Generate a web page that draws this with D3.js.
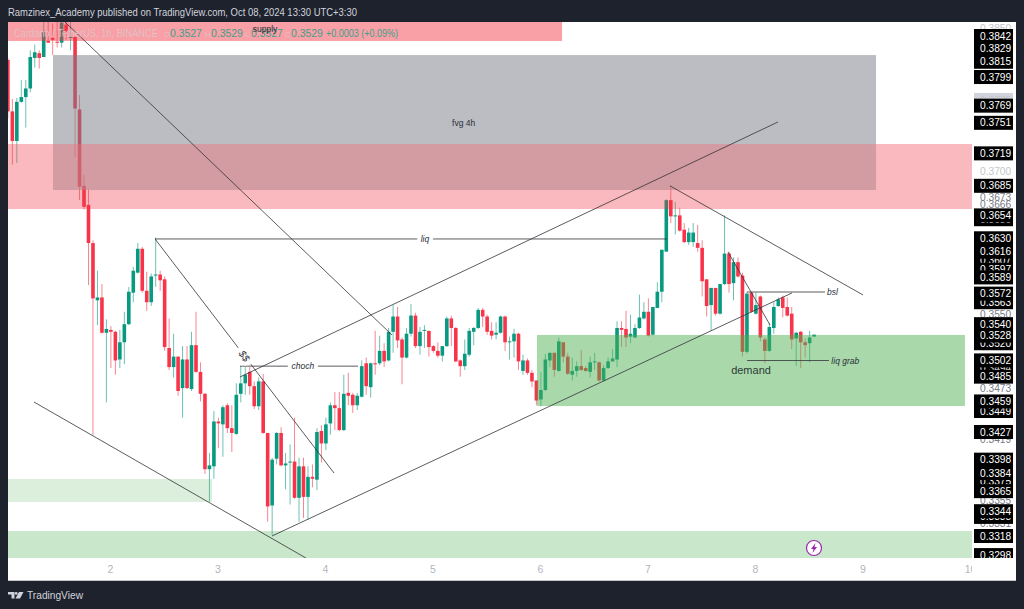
<!DOCTYPE html>
<html>
<head>
<meta charset="utf-8">
<script src="https://cdn.jsdelivr.net/npm/d3@7"></script>
<style>
  html, body { margin: 0; padding: 0; background: #1e222d; }
  svg { display: block; }
  text { font-family: "Liberation Sans", sans-serif; }
</style>
</head>
<body>
<div id="chart"></div>
<script>
// hourly candles, prices in ten-thousandths
const opens = [3817,3763,3732,3773,3778,3787,3819,3824,3820,3837,
3840,3836,3835,3854,3840,3841,3765,3685,3665,3625,
3565,3568,3531,3534,3532,3503,3521,3540,3573,3594,
3619,3575,3563,3591,3592,3587,3515,3495,3506,3473,
3503,3472,3518,3490,3467,3388,3391,3438,3435,3455,
3431,3425,3467,3478,3490,3475,3454,3480,3426,3350,
3399,3426,3392,3395,3396,3358,3391,3359,3380,3377,
3428,3415,3436,3455,3452,3429,3468,3466,3455,3464,
3499,3474,3499,3499,3512,3502,3532,3548,3524,3505,
3530,3549,3517,3533,3533,3517,3512,3507,3517,3546,
3536,3502,3496,3508,3532,3536,3555,3548,3533,3529,
3531,3548,3521,3522,3530,3491,3502,3489,3481,3461,
3471,3502,3510,3491,3521,3506,3487,3491,3496,3494,
3490,3500,3500,3481,3494,3501,3503,3536,3535,3527,
3526,3536,3546,3553,3529,3557,3574,3616,3670,3653,
3654,3639,3626,3626,3625,3620,3587,3560,3578,3551,
3582,3614,3583,3605,3591,3511,3573,3551,3569,3524,
3512,3536,3559,3568,3558,3551,3525,3532,3521,3520,
3527];
const highs = [3819,3776,3777,3796,3796,3827,3833,3827,3857,3857,
3855,3857,3857,3857,3857,3842,3780,3697,3681,3628,
3596,3582,3545,3538,3533,3534,3553,3579,3600,3625,
3621,3595,3593,3631,3596,3590,3546,3530,3506,3517,
3517,3532,3553,3500,3468,3405,3449,3442,3455,3457,
3455,3478,3496,3495,3495,3480,3484,3488,3426,3400,
3427,3432,3405,3414,3442,3400,3400,3391,3393,3431,
3434,3442,3458,3469,3469,3487,3489,3468,3468,3502,
3505,3500,3533,3528,3520,3536,3560,3558,3526,3536,
3561,3552,3537,3539,3533,3518,3521,3517,3548,3549,
3537,3503,3524,3536,3537,3557,3557,3550,3542,3542,
3549,3549,3527,3535,3531,3508,3504,3492,3481,3490,
3509,3510,3510,3526,3521,3510,3505,3501,3513,3496,
3506,3510,3501,3497,3505,3514,3543,3543,3554,3550,
3540,3571,3563,3567,3558,3584,3618,3671,3685,3668,
3662,3646,3641,3646,3644,3628,3587,3578,3578,3582,
3654,3616,3610,3610,3594,3574,3574,3573,3570,3526,
3541,3563,3568,3570,3568,3558,3532,3533,3525,3533,
3529];
const lows = [3756,3707,3709,3772,3746,3783,3809,3808,3820,3835,
3822,3830,3830,3838,3827,3715,3670,3660,3581,3424,
3539,3530,3458,3494,3487,3494,3498,3539,3563,3593,
3573,3554,3559,3579,3575,3512,3492,3484,3465,3442,
3472,3470,3489,3459,3383,3354,3378,3410,3401,3426,
3406,3424,3458,3466,3466,3451,3450,3425,3333,3319,
3393,3391,3367,3351,3357,3333,3337,3335,3369,3366,
3395,3408,3424,3429,3428,3428,3455,3447,3450,3463,
3466,3463,3487,3497,3495,3501,3510,3515,3477,3504,
3527,3515,3508,3515,3506,3510,3505,3501,3516,3517,
3500,3485,3492,3506,3518,3535,3537,3529,3524,3524,
3530,3512,3503,3505,3492,3487,3487,3474,3455,3454,
3470,3495,3485,3490,3500,3487,3481,3485,3491,3490,
3484,3492,3480,3480,3493,3501,3495,3516,3516,3520,
3526,3535,3545,3527,3528,3557,3563,3616,3646,3634,
3637,3625,3623,3621,3616,3569,3548,3533,3549,3550,
3581,3573,3565,3589,3506,3509,3552,3550,3522,3499,
3511,3530,3558,3547,3548,3514,3496,3494,3505,3500,
3527];
const closes = [3763,3732,3773,3778,3787,3820,3825,3819,3846,3835,
3838,3835,3856,3846,3841,3766,3684,3663,3625,3567,
3568,3531,3535,3532,3502,3521,3540,3574,3596,3619,
3575,3563,3590,3592,3586,3516,3495,3506,3470,3503,
3473,3518,3490,3467,3388,3392,3438,3436,3453,3431,
3426,3466,3478,3487,3475,3454,3480,3426,3349,3398,
3426,3392,3394,3396,3358,3391,3359,3380,3378,3427,
3415,3435,3455,3452,3429,3467,3465,3455,3465,3496,
3475,3499,3498,3512,3501,3532,3548,3523,3505,3530,
3549,3517,3532,3534,3516,3512,3507,3517,3546,3536,
3501,3496,3509,3533,3536,3555,3548,3532,3528,3531,
3548,3521,3522,3530,3501,3502,3489,3480,3460,3471,
3503,3510,3492,3522,3506,3488,3491,3496,3492,3491,
3500,3501,3481,3494,3501,3504,3536,3534,3526,3530,
3536,3547,3553,3528,3558,3574,3618,3670,3653,3654,
3638,3626,3636,3636,3620,3585,3559,3578,3551,3582,
3614,3582,3605,3590,3511,3572,3553,3560,3526,3512,
3537,3558,3566,3557,3549,3524,3531,3521,3518,3526,
3529];

const firstDay = 1.05;
const dayTicks = [2, 3, 4, 5, 6, 7, 8, 9, 10];

// price axis: plain ticks, then the black drawing labels
const paleTicks = [0.3850, 0.3775, 0.3700];
const greyTicks = [0.3673, 0.3666, 0.3550, 0.3473, 0.3419, 0.3355, 0.3331];
const hiddenLabels = [0.3650, 0.3607, 0.3597, 0.3563, 0.3520, 0.3494, 0.3449, 0.3375, 0.3338];
const frontLabels = [0.3842, 0.3829, 0.3815, 0.3799, 0.3769, 0.3751, 0.3719, 0.3685, 0.3654,
  0.3630, 0.3616, 0.3589, 0.3572, 0.3540, 0.3528, 0.3502, 0.3485, 0.3459, 0.3427,
  0.3398, 0.3384, 0.3365, 0.3344, 0.3318, 0.3298];

// zones: [day from, day to, price top, price bottom]
const fvgZone = [1.47, 9.126, 0.3822, 0.36806];
const supplyBand = [1.05, 10.02, 0.37288, 0.36607];
const bandOverlap = [1.47, 9.126, 0.37288, 0.36806];
const supplyTop = [1.05, 6.205, 0.38567, 0.38368];
const demandZone = [5.972, 9.953, 0.35287, 0.34542];
const lowZoneA = [1.05, 2.949, 0.33777, 0.33536];
const lowZoneB = [1.05, 10.02, 0.33232, 0.32949];

// trend lines: [day, price, day, price]
const trendLines = [
  [1.581, 0.38567, 4.623, 0.35287],
  [1.293, 0.34584, 3.823, 0.32949],
  [2.419, 0.36293, 4.084, 0.3384],
  [2.419, 0.36293, 7.181, 0.36293],
  [3.209, 0.3496, 4.307, 0.3496],
  [3.507, 0.3318, 8.344, 0.35727],
  [3.209, 0.34846, 8.214, 0.37519],
  [7.209, 0.3685, 9.005, 0.35706],
  [7.749, 0.36156, 8.14, 0.35391],
  [7.926, 0.35737, 8.651, 0.35737],
  [7.926, 0.35019, 8.688, 0.35019]
];

// notes: [text, day, price, rotation, cuts the line behind it]
const notes = [
  ["liq", 4.93, 0.36293, 0, true],
  ["choch", 3.795, 0.3496, 0, true],
  ["$$", 3.25, 0.35066, 52, true],
  ["bsl", 8.72, 0.35737, 0, false],
  ["liq grab", 8.84, 0.35019, 0, false],
  ["fvg 4h", 5.29, 0.37505, 0, false]
];

const width = 1024, height = 609;
const margin = { left: 8, top: 22, right: 972, bottom: 558 };
const x = d3.scaleLinear().domain([2, 10]).range([110, 970]);
const y = d3.scaleLinear().domain([0.3842, 0.3318]).range([36, 536]);

const svg = d3.select("#chart").append("svg")
  .attr("width", width)
  .attr("height", height)
  .style("background", "#1e222d");

// white panel with the time axis and price axis inside
svg.append("rect")
  .attr("x", margin.left).attr("y", margin.top)
  .attr("width", 1016 - margin.left).attr("height", 580 - margin.top)
  .attr("fill", "#ffffff");
svg.append("line")
  .attr("x1", margin.left).attr("x2", 1016).attr("y1", 580.5).attr("y2", 580.5)
  .attr("stroke", "#c4c6cc");

const defs = svg.append("defs");
defs.append("clipPath").attr("id", "pane").append("rect")
  .attr("x", margin.left).attr("y", margin.top)
  .attr("width", margin.right - margin.left).attr("height", margin.bottom - margin.top);
defs.append("clipPath").attr("id", "priceArea").append("rect")
  .attr("x", margin.right).attr("y", margin.top)
  .attr("width", 1016 - margin.right).attr("height", margin.bottom - margin.top);
defs.append("clipPath").attr("id", "timeArea").append("rect")
  .attr("x", margin.left).attr("y", margin.bottom)
  .attr("width", margin.right - margin.left).attr("height", 22);

const pane = svg.append("g").attr("clip-path", "url(#pane)");

// candles
const candles = d3.range(opens.length).map(i => ({
  day: firstDay + i / 24,
  open: opens[i] / 10000,
  high: highs[i] / 10000,
  low: lows[i] / 10000,
  close: closes[i] / 10000
}));
const candleColor = d => d.close >= d.open ? "#089981" : "#f7344a";

pane.selectAll(".wick")
  .data(candles)
  .enter()
  .append("line")
  .attr("class", "wick")
  .attr("x1", d => x(d.day))
  .attr("x2", d => x(d.day))
  .attr("y1", d => y(d.high))
  .attr("y2", d => y(d.low))
  .attr("stroke", candleColor)
  .attr("stroke-opacity", 0.6)
  .attr("stroke-width", 1);

pane.selectAll(".body")
  .data(candles)
  .enter()
  .append("rect")
  .attr("class", "body")
  .attr("x", d => x(d.day) - 1.8)
  .attr("width", 3.6)
  .attr("y", d => y(Math.max(d.open, d.close)))
  .attr("height", d => Math.max(1, Math.abs(y(d.open) - y(d.close))))
  .attr("fill", candleColor);

// zones go over the candles
function drawZone(zone, color, alpha) {
  pane.append("rect")
    .attr("x", x(zone[0]))
    .attr("width", x(zone[1]) - x(zone[0]))
    .attr("y", y(zone[2]))
    .attr("height", y(zone[3]) - y(zone[2]))
    .attr("fill", color)
    .attr("fill-opacity", alpha);
}
drawZone(fvgZone, "#787b86", 0.5);
drawZone(supplyBand, "#f23645", 0.35);
drawZone(bandOverlap, "#ffffff", 0.12); // the two zones mix lighter in the original
drawZone(supplyTop, "#f23645", 0.48);
drawZone(demandZone, "#4caf50", 0.48);
drawZone(lowZoneA, "#4caf50", 0.2);
drawZone(lowZoneB, "#4caf50", 0.3);

pane.selectAll(".trend")
  .data(trendLines)
  .enter()
  .append("line")
  .attr("class", "trend")
  .attr("x1", d => x(d[0]))
  .attr("y1", d => y(d[1]))
  .attr("x2", d => x(d[2]))
  .attr("y2", d => y(d[3]))
  .attr("stroke", "#33333a")
  .attr("stroke-opacity", 0.8)
  .attr("stroke-width", 1);

pane.selectAll(".note")
  .data(notes)
  .enter()
  .append("text")
  .attr("class", "note")
  .attr("transform", d => "translate(" + x(d[1]) + "," + y(d[2]) + ") rotate(" + d[3] + ")")
  .attr("text-anchor", "middle")
  .attr("dy", "0.35em")
  .attr("font-size", d => d[0] === "$$" ? 10 : 8.5)
  .attr("font-style", d => d[0] === "fvg 4h" ? "normal" : "italic")
  .attr("fill", "#2a2e39")
  .attr("stroke", d => d[4] ? "#ffffff" : "none")
  .attr("stroke-width", 8)
  .attr("paint-order", "stroke")
  .text(d => d[0]);

pane.append("text")
  .attr("x", x(7.963)).attr("y", y(0.3492))
  .attr("dy", "0.35em")
  .attr("text-anchor", "middle")
  .attr("font-size", 11)
  .attr("fill", "#2f3a36")
  .text("demand");

// small alert icon near the last bar
const alertIcon = pane.append("g").attr("transform", "translate(814,548)");
alertIcon.append("circle")
  .attr("r", 7.5)
  .attr("fill", "#ffffff")
  .attr("stroke", "#9c27b0")
  .attr("stroke-width", 1.2);
alertIcon.append("path")
  .attr("d", "M1.5,-5 L-3,1 L-0.5,1 L-1.5,5 L3,-1 L0.5,-1 Z")
  .attr("fill", "#9c27b0");

// legend line and the supply note
const legendY = 36.5;
const last = candles[candles.length - 1];
const fmt = d3.format(".4f");
svg.append("text")
  .attr("x", 14).attr("y", legendY)
  .attr("font-size", 10.5)
  .attr("textLength", 144)
  .attr("lengthAdjust", "spacingAndGlyphs")
  .attr("fill", "#e3c0c4")
  .text("Cardano / TetherUS, 1h, BINANCE");
const legendItems = [
  ["O", fmt(last.open), 164],
  ["H", fmt(last.high), 205],
  ["L", fmt(last.low), 245],
  ["C", fmt(last.close), 285]
];
legendItems.forEach(d => {
  svg.append("text").attr("x", d[2]).attr("y", legendY).attr("font-size", 8)
    .attr("fill", "#e3c0c4").text(d[0]);
  svg.append("text").attr("x", d[2] + 6).attr("y", legendY).attr("font-size", 10.4)
    .attr("fill", "#3f9f8c").text(d[1]);
});
svg.append("text")
  .attr("x", 326).attr("y", legendY)
  .attr("font-size", 10.4)
  .attr("textLength", 72)
  .attr("lengthAdjust", "spacingAndGlyphs")
  .attr("fill", "#3f9f8c")
  .text("+0.0003 (+0.09%)");
svg.append("text")
  .attr("x", 265).attr("y", 32)
  .attr("text-anchor", "middle")
  .attr("font-size", 8.5)
  .attr("fill", "#2a2e39")
  .text("supply");

// time axis
const timeAxis = svg.append("g")
  .attr("clip-path", "url(#timeArea)")
  .append("g")
  .attr("transform", "translate(0,563)")
  .call(d3.axisBottom(x).tickValues(dayTicks).tickSize(0).tickFormat(d3.format("d")));
timeAxis.select(".domain").remove();
timeAxis.selectAll("text").attr("font-size", 10.5).attr("fill", "#b2b5be").attr("font-family", "Liberation Sans");

// price axis
const priceArea = svg.append("g").attr("clip-path", "url(#priceArea)");
priceArea.append("rect")
  .attr("x", 974).attr("width", 39)
  .attr("y", y(0.3775) - 7).attr("height", 14)
  .attr("fill", "#d1d4dc");

function priceTicks(values, color) {
  const axis = priceArea.append("g")
    .attr("transform", "translate(972,0)")
    .call(d3.axisRight(y).tickValues(values).tickSize(0).tickPadding(8).tickFormat(fmt));
  axis.select(".domain").remove();
  axis.selectAll("text")
    .attr("font-size", 10.2)
    .attr("fill", color)
    .attr("font-family", "Liberation Sans");
}
priceTicks(paleTicks, "#c4c6cc");
priceTicks(greyTicks, "#787b86");

function priceLabels(values) {
  const tag = priceArea.selectAll(null)
    .data(values)
    .enter()
    .append("g")
    .attr("transform", d => "translate(974," + y(d) + ")");
  tag.append("rect")
    .attr("y", -7)
    .attr("width", 39)
    .attr("height", 14)
    .attr("fill", "#000000");
  tag.append("text")
    .attr("x", 6)
    .attr("dy", "0.35em")
    .attr("font-size", 10.2)
    .attr("fill", "#ffffff")
    .text(d => fmt(d));
}
priceLabels(hiddenLabels);
priceLabels(frontLabels);

// header and footer
svg.append("text")
  .attr("x", 8).attr("y", 16)
  .attr("font-size", 10.5)
  .attr("textLength", 349)
  .attr("lengthAdjust", "spacingAndGlyphs")
  .attr("fill", "#d1d4dc")
  .text("Ramzinex_Academy published on TradingView.com, Oct 08, 2024 13:30 UTC+3:30");

const logo = svg.append("g").attr("fill", "#d1d4dc");
logo.append("path").attr("d", "M8,592 H14.5 V598.5 H11.5 V594.5 H8 Z");
logo.append("circle").attr("cx", 16.2).attr("cy", 593.4).attr("r", 1.4);
logo.append("path").attr("d", "M19,592 H23.5 L20,598.5 H15.5 Z");
svg.append("text")
  .attr("x", 27).attr("y", 599)
  .attr("font-size", 11)
  .attr("textLength", 56)
  .attr("lengthAdjust", "spacingAndGlyphs")
  .attr("fill", "#d1d4dc")
  .text("TradingView");
</script>
</body>
</html>
